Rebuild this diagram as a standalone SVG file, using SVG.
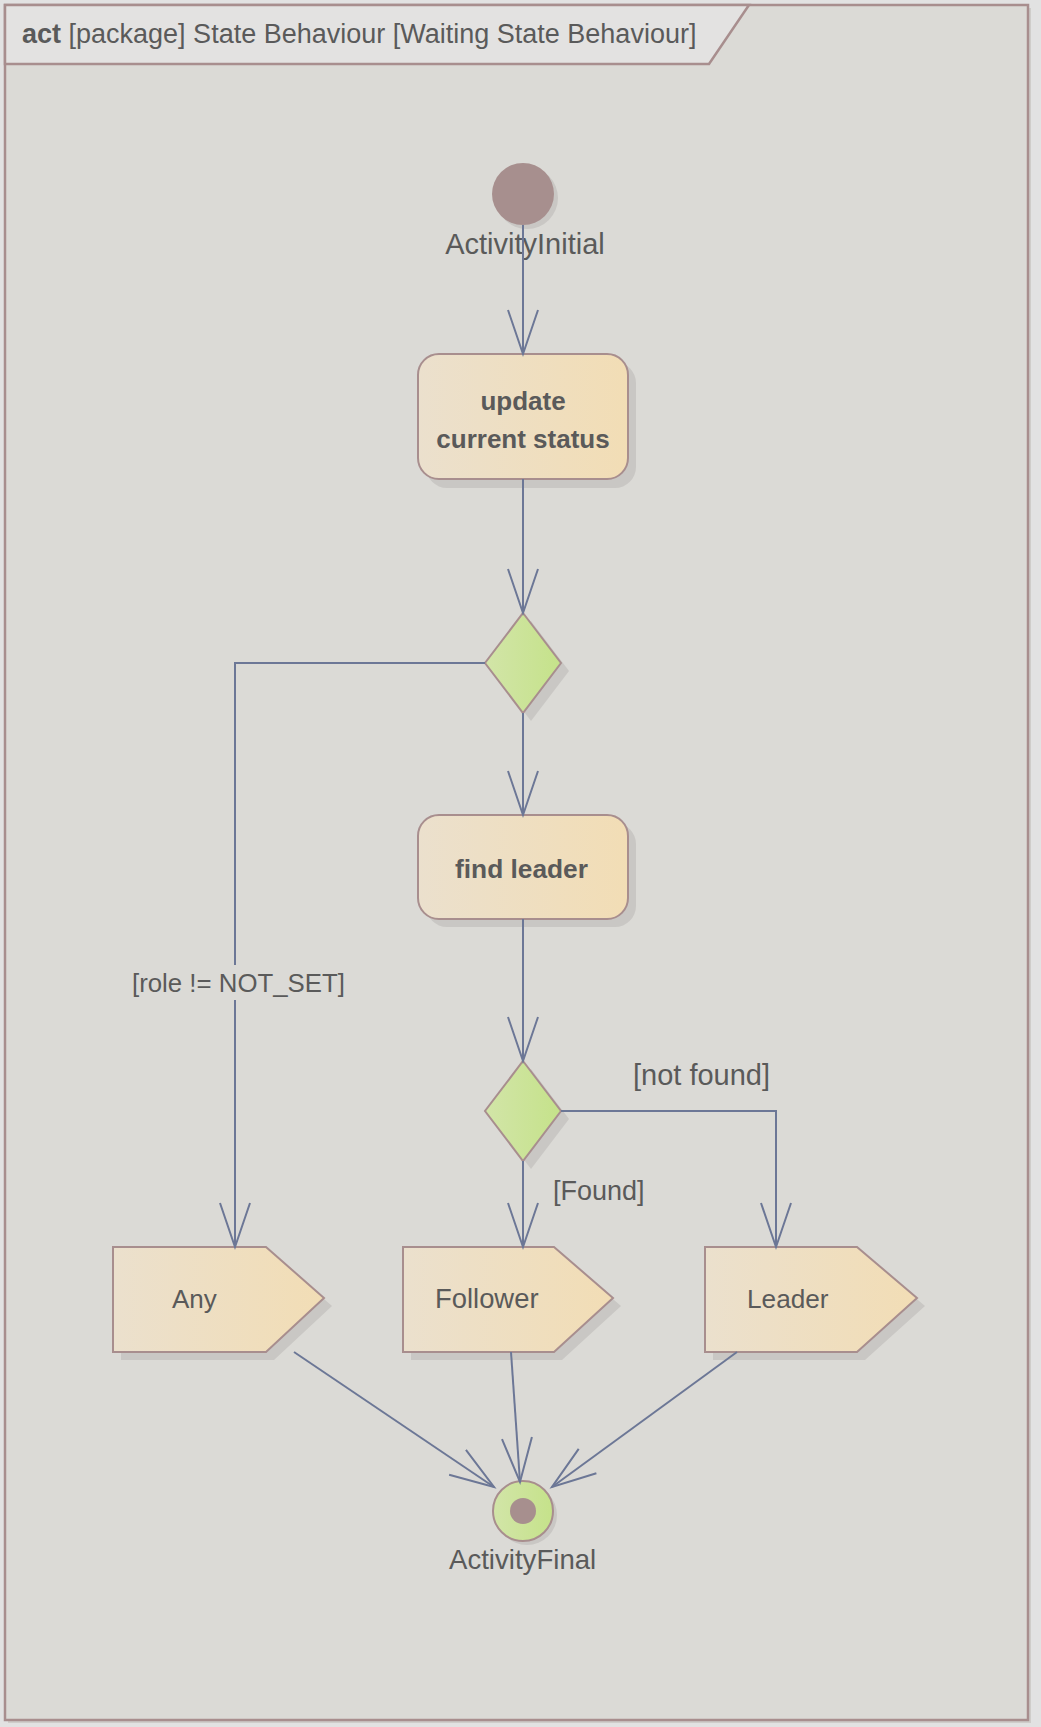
<svg xmlns="http://www.w3.org/2000/svg" width="1041" height="1727" viewBox="0 0 1041 1727">
<defs>
<linearGradient id="gAct" x1="0" y1="0" x2="1" y2="0">
<stop offset="0" stop-color="#ebe0cd"/>
<stop offset="1" stop-color="#f2ddb5"/>
</linearGradient>
<linearGradient id="gDec" x1="0" y1="0" x2="1" y2="0">
<stop offset="0" stop-color="#d2e5a8"/>
<stop offset="1" stop-color="#c5e28a"/>
</linearGradient>
<marker id="arr" markerUnits="userSpaceOnUse" viewBox="-2 -2 50 34" refX="44" refY="15" markerWidth="50" markerHeight="34" orient="auto" overflow="visible">
<path d="M0,0 L44,15 L0,30" fill="none" stroke="#6c7796" stroke-width="2"/>
</marker>
<style>
.txt{font-family:"Liberation Sans",Arial,sans-serif;fill:#5a5a5a}
.b{font-weight:bold}
.node{stroke:#a88e8e;stroke-width:2}
.act{fill:url(#gAct)}
.dec{fill:url(#gDec)}
.sh{fill:#c9c7c4}
.edge{fill:none;stroke:#6c7796;stroke-width:2;marker-end:url(#arr)}
</style>
</defs>
<rect x="0" y="0" width="1041" height="1727" fill="#e2e2e2"/>
<g id="frame">
<rect x="8" y="8" width="1023" height="1715" fill="#cfcdca"/>
<rect x="5" y="5" width="1023" height="1715" fill="#dbdad6" stroke="#a88e8e" stroke-width="2.5"/>
<path d="M5,5 H749 L709,64 H5 Z" fill="#e3e2e1" stroke="#a88e8e" stroke-width="2.5"/>
<text class="txt" x="22" y="43" font-size="27"><tspan class="b">act</tspan> [package] State Behaviour [Waiting State Behaviour]</text>
</g>
<g id="initial">
<circle class="sh" cx="527" cy="198" r="31"/>
<circle cx="523" cy="194" r="31" fill="#a78f8e"/>
<text class="txt" x="525" y="254" font-size="29" text-anchor="middle">ActivityInitial</text>
</g>
<g id="update">
<rect class="sh" x="426" y="362" width="210" height="126" rx="21"/>
<rect class="node act" x="418" y="354" width="210" height="125" rx="21"/>
<text class="txt b" x="523" y="410" font-size="26" text-anchor="middle">update</text>
<text class="txt b" x="523" y="448" font-size="26" text-anchor="middle">current status</text>
</g>
<g id="decision1">
<polygon class="sh" points="531,621 569,671 531,721 493,671"/>
<polygon class="node dec" points="523,613 561,663 523,713 485,663"/>
</g>
<g id="findLeader">
<rect class="sh" x="426" y="823" width="210" height="104" rx="21"/>
<rect class="node act" x="418" y="815" width="210" height="104" rx="21"/>
<text class="txt b" x="521.5" y="878" font-size="26.3" text-anchor="middle">find leader</text>
</g>
<g id="decision2">
<polygon class="sh" points="531,1069 569,1119 531,1169 493,1119"/>
<polygon class="node dec" points="523,1061 561,1111 523,1161 485,1111"/>
</g>
<g id="any">
<polygon class="sh" points="121,1255 274,1255 332,1306 274,1360 121,1360"/>
<polygon class="node act" points="113,1247 266,1247 324,1298 266,1352 113,1352"/>
<text class="txt" x="172" y="1308" font-size="26">Any</text>
</g>
<g id="follower">
<polygon class="sh" points="411,1255 562,1255 621,1306 562,1360 411,1360"/>
<polygon class="node act" points="403,1247 554,1247 613,1298 554,1352 403,1352"/>
<text class="txt" x="435" y="1308" font-size="27.4">Follower</text>
</g>
<g id="leader">
<polygon class="sh" points="713,1255 865,1255 925,1306 865,1360 713,1360"/>
<polygon class="node act" points="705,1247 857,1247 917,1298 857,1352 705,1352"/>
<text class="txt" x="747" y="1308" font-size="26.2">Leader</text>
</g>
<g id="final">
<circle class="sh" cx="527" cy="1515" r="30"/>
<circle class="node dec" cx="523" cy="1511" r="30"/>
<circle cx="523" cy="1511" r="13" fill="#a78f8e"/>
<text class="txt" x="449" y="1569" font-size="27.6">ActivityFinal</text>
</g>
<g id="connectors">
<path class="edge" d="M523,225 V354"/>
<path class="edge" d="M523,479 V613"/>
<path class="edge" d="M485,663 H235 V1247"/>
<path class="edge" d="M523,713 V815"/>
<path class="edge" d="M523,919 V1061"/>
<path class="edge" d="M523,1161 V1247"/>
<path class="edge" d="M561,1111 H776 V1247"/>
<path class="edge" d="M294,1352 L494,1487"/>
<path class="edge" d="M511,1352 L520,1482"/>
<path class="edge" d="M737,1352 L552,1487"/>
</g>
<g id="labels">
<rect x="128" y="965" width="220" height="35" fill="#dbdad6"/>
<text class="txt" x="132" y="992" font-size="25.8">[role != NOT_SET]</text>
<text class="txt" x="633" y="1085" font-size="29">[not found]</text>
<text class="txt" x="553" y="1200" font-size="27">[Found]</text>
</g>
</svg>
